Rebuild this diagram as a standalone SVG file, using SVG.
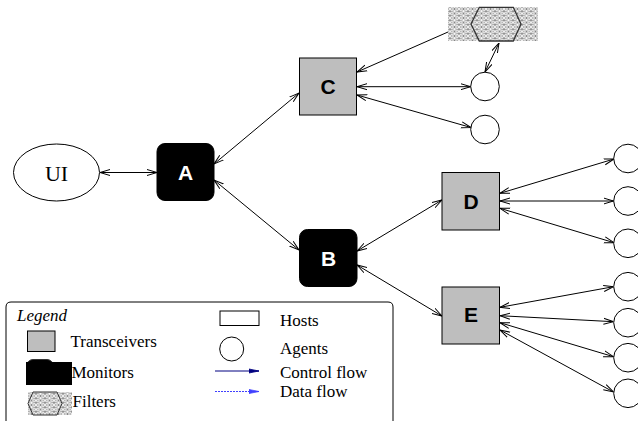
<svg xmlns="http://www.w3.org/2000/svg" width="638" height="421" viewBox="0 0 638 421">
<style>
.conn line{stroke:#000;stroke-width:1;fill:none}
.bi{marker-start:url(#ah);marker-end:url(#ah)}
.trans{fill:#bebebe;stroke:#000;stroke-width:1}
.mon{fill:#000;stroke:#000;stroke-width:1}
.agent{fill:#fff;stroke:#000;stroke-width:1}
.lbl{font-family:"Liberation Sans",Arial,sans-serif;font-weight:bold;font-size:21px;text-anchor:middle}
.leg{font-family:"Liberation Serif","Times New Roman",serif;font-size:17px;fill:#000}
</style>
<defs>
<marker id="ah" viewBox="0 0 10 8" refX="10" refY="4" markerWidth="10" markerHeight="8" markerUnits="userSpaceOnUse" orient="auto-start-reverse">
<path d="M0,1 L10,4 L0,7" fill="none" stroke="#000" stroke-width="1"/>
</marker>
<marker id="ahc" viewBox="0 0 10 8" refX="10" refY="4" markerWidth="10" markerHeight="8" markerUnits="userSpaceOnUse" orient="auto">
<path d="M0,2 L10,4 L0,6 Z" fill="#000080" stroke="#000080" stroke-width="0.8"/>
</marker>
<marker id="ahd" viewBox="0 0 10 8" refX="10" refY="4" markerWidth="10" markerHeight="8" markerUnits="userSpaceOnUse" orient="auto">
<path d="M0,2 L10,4 L0,6 Z" fill="#4040ff" stroke="#4040ff" stroke-width="0.8"/>
</marker>
<pattern id="mesh" width="9" height="4.5" patternUnits="userSpaceOnUse">
<rect width="9" height="4.5" fill="#fff"/>
<g fill="none" stroke="#666" stroke-width="0.5">
<ellipse cx="4.5" cy="2.25" rx="4.5" ry="2.25"/>
<ellipse cx="0" cy="0" rx="4.5" ry="2.25"/>
<ellipse cx="9" cy="0" rx="4.5" ry="2.25"/>
<ellipse cx="0" cy="4.5" rx="4.5" ry="2.25"/>
<ellipse cx="9" cy="4.5" rx="4.5" ry="2.25"/>
</g>
</pattern>
</defs>
<rect width="638" height="421" fill="#fff"/>

<g id="connectors" class="conn">
<line class="bi" x1="100" y1="172.5" x2="157" y2="172.5"/>
<line class="bi" x1="214" y1="164" x2="299" y2="93"/>
<line class="bi" x1="214" y1="180" x2="299" y2="250"/>
<line class="bi" x1="357" y1="251" x2="442" y2="200"/>
<line class="bi" x1="357" y1="265" x2="442" y2="316"/>
<line x1="448" y1="32" x2="357" y2="72" marker-end="url(#ah)"/>
<line class="bi" x1="357" y1="86.7" x2="470.7" y2="86.7"/>
<line class="bi" x1="357" y1="95" x2="471" y2="127.5"/>
<line class="bi" x1="499" y1="43" x2="485" y2="72"/>
<line class="bi" x1="500" y1="193.3" x2="614" y2="159"/>
<line class="bi" x1="500" y1="201" x2="613.5" y2="201"/>
<line class="bi" x1="500" y1="208.3" x2="614" y2="242.7"/>
<line class="bi" x1="500" y1="307.3" x2="613.5" y2="286.7"/>
<line class="bi" x1="500" y1="315.7" x2="613.5" y2="321.7"/>
<line class="bi" x1="500" y1="322.7" x2="613.5" y2="356.7"/>
<line class="bi" x1="500" y1="330" x2="613.5" y2="392"/>
</g>

<g id="UI">
<ellipse cx="56.5" cy="172.5" rx="43" ry="28.5" fill="#fff" stroke="#000"/>
<text x="56.5" y="181" font-family="Liberation Serif,'Times New Roman',serif" font-size="22" text-anchor="middle">UI</text>
</g>
<g id="A">
<rect class="mon" x="157" y="143.5" width="57" height="57" rx="8"/>
<text class="lbl" x="185.5" y="180" fill="#fff">A</text>
</g>
<g id="B">
<rect class="mon" x="299.5" y="229.5" width="57.5" height="57" rx="8"/>
<text class="lbl" x="328.5" y="266" fill="#fff">B</text>
</g>
<g id="C">
<rect class="trans" x="299.5" y="58" width="57" height="57"/>
<text class="lbl" x="328" y="94">C</text>
</g>
<g id="D">
<rect class="trans" x="442" y="172.5" width="57.5" height="57.5"/>
<text class="lbl" x="471" y="208.5">D</text>
</g>
<g id="E">
<rect class="trans" x="442" y="287" width="57.5" height="57"/>
<text class="lbl" x="471" y="322">E</text>
</g>
<g id="filter">
<rect x="448" y="7" width="90" height="34" fill="url(#mesh)"/>
<polygon points="479.3,7.3 513.3,7.3 521,24 513.3,41 479.3,41 471,24" fill="url(#mesh)" stroke="#333" stroke-width="1.3"/>
</g>
<g id="agentC1"><circle class="agent" cx="485" cy="86.5" r="14.3"/></g>
<g id="agentC2"><circle class="agent" cx="485" cy="129.5" r="14.3"/></g>
<g id="agentD1"><circle class="agent" cx="628" cy="158.5" r="14.3"/></g>
<g id="agentD2"><circle class="agent" cx="628" cy="201" r="14.3"/></g>
<g id="agentD3"><circle class="agent" cx="628" cy="243.3" r="14.3"/></g>
<g id="agentE1"><circle class="agent" cx="628" cy="286.7" r="14.3"/></g>
<g id="agentE2"><circle class="agent" cx="628" cy="322.7" r="14.3"/></g>
<g id="agentE3"><circle class="agent" cx="628" cy="357.7" r="14.3"/></g>
<g id="agentE4"><circle class="agent" cx="628" cy="393.3" r="14.3"/></g>

<g id="legend">
<path d="M6,430 L6,307 Q6,302 11,302 L388,302 Q393,302 393,307 L393,430" fill="none" stroke="#000" stroke-width="1"/>
<text class="leg" x="17" y="320.5" font-style="italic">Legend</text>
<rect x="27.5" y="331" width="27.5" height="20.5" fill="#bebebe" stroke="#000"/>
<text class="leg" x="70.5" y="346.5">Transceivers</text>
<rect x="27" y="359.5" width="26" height="25" rx="6" fill="#000" stroke="#333"/>
<rect x="26" y="362" width="46" height="23" fill="#000"/>
<text class="leg" x="71.5" y="377.5">Monitors</text>
<rect x="28" y="392" width="44" height="23" fill="url(#mesh)"/>
<polygon points="33,392 57,392 62,403.5 57,415 33,415 28,403.5" fill="url(#mesh)" stroke="#333" stroke-width="1"/>
<text class="leg" x="72.5" y="407">Filters</text>
<rect x="220" y="311" width="39" height="14.5" fill="#fff" stroke="#000"/>
<text class="leg" x="280" y="326">Hosts</text>
<circle cx="231.7" cy="349" r="12" fill="#fff" stroke="#000"/>
<text class="leg" x="280" y="353.5">Agents</text>
<line x1="215" y1="371" x2="259" y2="371" stroke="#000080" stroke-width="1" marker-end="url(#ahc)"/>
<text class="leg" x="280" y="377.5">Control flow</text>
<line x1="215" y1="391.5" x2="259" y2="391.5" stroke="#4040ff" stroke-width="1" stroke-dasharray="2,1" marker-end="url(#ahd)"/>
<text class="leg" x="280" y="396.5">Data flow</text>
</g>
</svg>
